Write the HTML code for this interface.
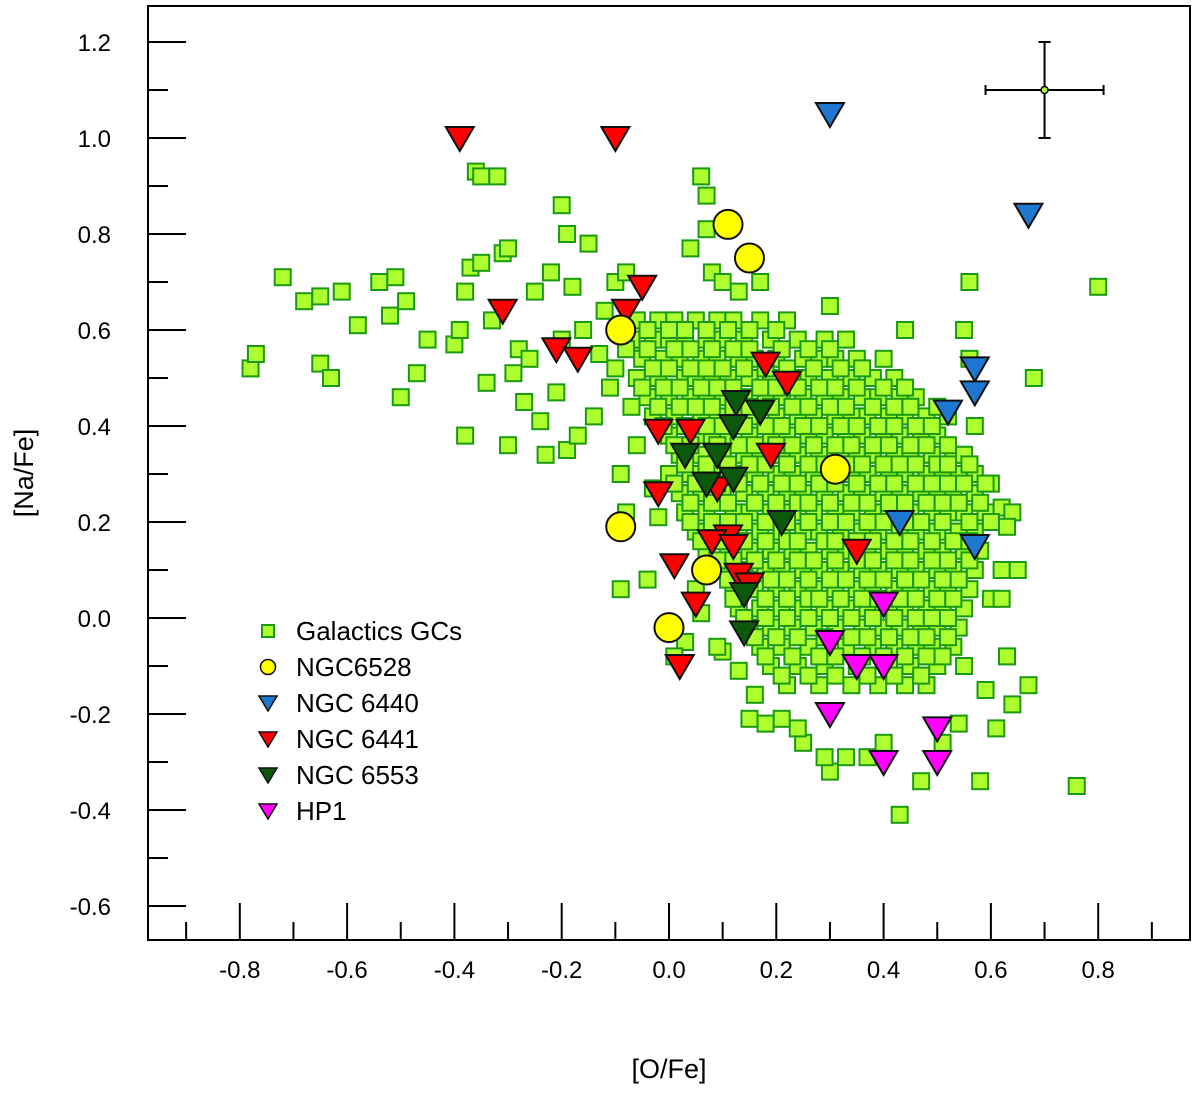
<!DOCTYPE html>
<html><head><meta charset="utf-8"><style>
html,body{margin:0;padding:0;background:#fff;}
svg{display:block;font-family:"Liberation Sans",sans-serif;}
</style></head><body>
<svg id="chart" width="1200" height="1093" viewBox="0 0 1200 1093">
<rect x="148" y="6" width="1042" height="934" fill="none" stroke="#000" stroke-width="2"/>
<g id="ticks"></g>
<g id="squares"></g>
<g id="markers"></g>
<text x="669" y="1078" font-size="27" text-anchor="middle">[O/Fe]</text>
<text transform="translate(33,473) rotate(-90)" font-size="27" text-anchor="middle">[Na/Fe]</text>
<g id="legend"></g>
</svg>
<script>
const gcX = [];
const gcY = [];
const outer = [[-0.78,0.52],[-0.77,0.55],[-0.72,0.71],[-0.68,0.66],[-0.65,0.67],[-0.65,0.53],[-0.63,0.50],[-0.61,0.68],[-0.58,0.61],[-0.54,0.70],[-0.52,0.63],[-0.51,0.71],[-0.50,0.46],[-0.49,0.66],[-0.47,0.51],[-0.45,0.58],[-0.40,0.57],[-0.39,0.60],[-0.38,0.38],[-0.38,0.68],[-0.37,0.73],[-0.36,0.93],[-0.35,0.92],[-0.35,0.74],[-0.34,0.49],[-0.33,0.62],[-0.32,0.92],[-0.31,0.76],[-0.30,0.77],[-0.30,0.36],[-0.29,0.51],[-0.28,0.56],[-0.27,0.45],[-0.26,0.54],[-0.25,0.68],[-0.24,0.41],[-0.23,0.34],[-0.22,0.72],[-0.21,0.47],[-0.20,0.86],[-0.20,0.58],[-0.19,0.80],[-0.19,0.35],[-0.18,0.69],[-0.17,0.38],[-0.16,0.60],[-0.15,0.78],[-0.14,0.42],[-0.13,0.55],[-0.12,0.64],[-0.11,0.48],[-0.10,0.52],[-0.10,0.70],[-0.09,0.30],[-0.09,0.06],[-0.08,0.72],[-0.08,0.22],[-0.07,0.44],[-0.06,0.36],[-0.05,0.56],[-0.04,0.08],[-0.03,0.27],[-0.02,0.21],[0.06,0.92],[0.07,0.88],[0.07,0.81],[0.08,0.72],[0.04,0.77],[0.10,0.70],[0.13,0.68],[0.17,0.70],[0.30,0.65],[0.40,0.54],[0.44,0.60],[0.55,0.60],[0.56,0.70],[0.56,0.54],[0.57,0.40],[0.68,0.50],[0.80,0.69],[0.60,0.28],[0.62,0.23],[0.64,0.22],[0.63,0.19],[0.65,0.10],[0.62,0.10],[0.60,0.04],[0.62,0.04],[0.63,-0.08],[0.64,-0.18],[0.67,-0.14],[0.76,-0.35],[0.58,-0.34],[0.59,-0.15],[0.61,-0.23],[0.54,-0.22],[0.51,-0.26],[0.47,-0.34],[0.43,-0.41],[0.40,-0.26],[0.37,-0.29],[0.33,-0.29],[0.30,-0.32],[0.29,-0.29],[0.25,-0.26],[0.24,-0.23],[0.21,-0.21],[0.18,-0.22],[0.16,-0.16],[0.15,-0.21],[0.13,-0.11],[0.10,-0.07],[0.09,-0.06],[0.06,0.01],[0.03,-0.05],[0.01,-0.08],[0.05,0.06]];
const coreRowY = [0.62,0.58,0.54,0.50,0.46,0.42,0.38,0.34,0.30,0.26,0.22,0.18,0.14,0.10,0.06,0.02,-0.02,-0.06,-0.10,-0.14];
const coreRowX = [
[-0.06,-0.02,0.01,0.05,0.09,0.12,0.17,0.22],
[-0.07,-0.03,0.0,0.03,0.07,0.1,0.14,0.19,0.24,0.29,0.33],
[-0.05,-0.01,0.02,0.06,0.09,0.13,0.16,0.2,0.25,0.28,0.31,0.35],
[-0.06,-0.02,0.03,0.05,0.08,0.11,0.15,0.19,0.23,0.26,0.3,0.34,0.38,0.42],
[-0.04,0.0,0.04,0.07,0.1,0.14,0.18,0.21,0.25,0.29,0.32,0.36,0.39,0.43,0.46],
[-0.03,0.01,0.06,0.09,0.13,0.16,0.2,0.24,0.27,0.31,0.34,0.37,0.41,0.44,0.48,0.52],
[0.0,0.05,0.08,0.11,0.15,0.19,0.22,0.26,0.29,0.33,0.36,0.4,0.43,0.47,0.5],
[0.02,0.06,0.1,0.14,0.17,0.21,0.24,0.28,0.32,0.35,0.38,0.42,0.45,0.49,0.53,0.55],
[0.0,0.04,0.08,0.12,0.16,0.2,0.23,0.27,0.3,0.34,0.37,0.41,0.44,0.48,0.51,0.54,0.57],
[0.02,0.06,0.1,0.14,0.18,0.22,0.25,0.29,0.33,0.36,0.4,0.43,0.47,0.5,0.53,0.57],
[0.03,0.07,0.12,0.15,0.19,0.23,0.27,0.31,0.34,0.38,0.41,0.45,0.49,0.52,0.55,0.59],
[0.05,0.09,0.13,0.17,0.21,0.25,0.28,0.32,0.36,0.39,0.43,0.46,0.5,0.54,0.57],
[0.07,0.11,0.15,0.19,0.23,0.26,0.3,0.33,0.37,0.41,0.44,0.48,0.51,0.55,0.58],
[0.1,0.14,0.18,0.21,0.25,0.28,0.32,0.36,0.39,0.43,0.46,0.5,0.53,0.57],
[0.12,0.16,0.2,0.24,0.27,0.31,0.35,0.38,0.42,0.45,0.49,0.52,0.56],
[0.13,0.17,0.21,0.25,0.29,0.33,0.37,0.41,0.44,0.48,0.51,0.55],
[0.15,0.19,0.23,0.27,0.31,0.36,0.4,0.43,0.47,0.5,0.54],
[0.17,0.21,0.26,0.33,0.38,0.42,0.46,0.49,0.53],
[0.19,0.24,0.29,0.35,0.41,0.45,0.5,0.55],
[0.22,0.28,0.34,0.39,0.44,0.48]];
const midRowY = [0.60,0.56,0.52,0.48,0.44,0.40,0.36,0.32,0.28,0.24,0.20,0.16,0.12,0.08,0.04,0.00,-0.04,-0.08,-0.12];
const midRowX = [
[-0.04,0.0,0.03,0.07,0.11,0.15,0.2],
[-0.08,-0.04,0.01,0.04,0.08,0.12,0.15,0.21,0.26,0.3],
[-0.03,0.0,0.04,0.07,0.1,0.14,0.18,0.22,0.27,0.32,0.36],
[-0.05,-0.01,0.02,0.06,0.09,0.12,0.17,0.2,0.24,0.28,0.31,0.35,0.4,0.44],
[-0.02,0.02,0.05,0.08,0.12,0.15,0.19,0.23,0.26,0.3,0.33,0.38,0.42,0.45,0.5],
[-0.01,0.03,0.07,0.1,0.14,0.18,0.21,0.25,0.28,0.32,0.35,0.39,0.42,0.46,0.49],
[0.01,0.04,0.09,0.13,0.16,0.2,0.23,0.27,0.31,0.34,0.38,0.41,0.45,0.48,0.52],
[0.03,0.07,0.11,0.15,0.18,0.22,0.26,0.29,0.33,0.36,0.4,0.43,0.46,0.5,0.52,0.56],
[0.01,0.05,0.09,0.13,0.17,0.21,0.24,0.28,0.31,0.35,0.39,0.42,0.46,0.49,0.52,0.55,0.59],
[0.04,0.08,0.11,0.16,0.2,0.24,0.26,0.3,0.34,0.37,0.41,0.44,0.48,0.51,0.54,0.58],
[0.04,0.08,0.11,0.14,0.18,0.22,0.26,0.3,0.33,0.37,0.4,0.44,0.47,0.51,0.56,0.6],
[0.06,0.1,0.14,0.18,0.22,0.24,0.29,0.31,0.35,0.38,0.42,0.45,0.49,0.53,0.56],
[0.09,0.12,0.16,0.2,0.24,0.27,0.31,0.35,0.38,0.42,0.45,0.49,0.52,0.56],
[0.11,0.15,0.19,0.22,0.26,0.3,0.33,0.37,0.4,0.44,0.47,0.51,0.54],
[0.12,0.18,0.22,0.26,0.28,0.32,0.36,0.39,0.43,0.46,0.5,0.53],
[0.14,0.18,0.22,0.26,0.3,0.34,0.38,0.42,0.46,0.49,0.52],
[0.16,0.2,0.24,0.29,0.34,0.37,0.41,0.45,0.48,0.52],
[0.18,0.23,0.28,0.31,0.36,0.4,0.44,0.48,0.51],
[0.21,0.26,0.31,0.37,0.42,0.47]];
const ngc6528X = [0.11,0.15,-0.09,0.31,-0.09,0.07,0.0];
const ngc6528Y = [0.82,0.75,0.60,0.31,0.19,0.10,-0.02];
const ngc6440X = [0.30,0.67,0.57,0.57,0.52,0.43,0.57];
const ngc6440Y = [1.05,0.84,0.52,0.47,0.43,0.20,0.15];
const ngc6441X = [-0.39,-0.10,-0.31,-0.05,-0.08,-0.21,-0.17,0.18,0.22,-0.02,0.04,0.19,-0.02,0.09,0.11,0.08,0.12,0.35,0.01,0.13,0.15,0.05,0.02];
const ngc6441Y = [1.0,1.0,0.64,0.69,0.64,0.56,0.54,0.53,0.49,0.39,0.39,0.34,0.26,0.27,0.17,0.16,0.15,0.14,0.11,0.09,0.07,0.03,-0.10];
const ngc6553X = [0.125,0.17,0.12,0.03,0.09,0.07,0.12,0.21,0.14,0.14];
const ngc6553Y = [0.45,0.43,0.40,0.34,0.34,0.28,0.29,0.20,0.05,-0.03];
const hp1X = [0.40,0.30,0.35,0.40,0.30,0.50,0.40,0.50];
const hp1Y = [0.03,-0.05,-0.10,-0.10,-0.20,-0.23,-0.30,-0.30];
const xTickLabels = ["-0.8","-0.6","-0.4","-0.2","0.0","0.2","0.4","0.6","0.8"];
const yTickLabels = ["-0.6","-0.4","-0.2","0.0","0.2","0.4","0.6","0.8","1.0","1.2"];
const errX = 0.70, errY = 1.10, errDX = 0.11, errDY = 0.10;

outer.forEach(p=>{gcX.push(p[0]);gcY.push(p[1]);});
coreRowX.forEach((row,i)=>row.forEach(x=>{gcX.push(x);gcY.push(coreRowY[i]);}));
midRowX.forEach((row,i)=>row.forEach(x=>{gcX.push(x);gcY.push(midRowY[i]);}));

const sx = v => 669 + v*536.5;
const sy = v => 618 - v*480;
const NS = "http://www.w3.org/2000/svg";
function mk(tag, attrs, parent){const e=document.createElementNS(NS,tag);for(const k in attrs)e.setAttribute(k,attrs[k]);parent.appendChild(e);return e;}

const tg = document.getElementById('ticks');
for(let i=-9;i<=9;i++){
  const v=i/10, major=(i%2===0);
  const x=sx(v);
  const t=mk('line',{x1:x,x2:x,y1:940,y2:major?903:922,stroke:'#000','stroke-width':2},tg);
  
  
}
xTickLabels.forEach(s=>{
  const t=mk('text',{x:sx(parseFloat(s)),y:978,'font-size':24,'text-anchor':'middle'},tg);
  t.textContent=s;
  
  
});
for(let i=-6;i<=12;i++){
  const v=i/10, major=(i%2===0);
  const y=sy(v);
  const t=mk('line',{x1:148,x2:major?186:168,y1:y,y2:y,stroke:'#000','stroke-width':2},tg);
  
  
}
yTickLabels.forEach(s=>{
  const t=mk('text',{x:111,y:sy(parseFloat(s))+9,'font-size':24,'text-anchor':'end'},tg);
  t.textContent=s;
  
  
});

const sq = document.getElementById('squares');
gcX.forEach((x,i)=>{
  const r=mk('rect',{x:sx(x)-8,y:sy(gcY[i])-8,width:16,height:16,fill:'#adff2f',stroke:'#1a9a10','stroke-width':2},sq);
  
  
});

const mg = document.getElementById('markers');
function tri(cx,cy,fill,parent,name){
  const p=mk('polygon',{points:`${cx-14},${cy-11} ${cx+14},${cy-11} ${cx},${cy+13}`,fill:fill,stroke:'#111','stroke-width':2},parent);
  
  
}
ngc6441X.forEach((x,i)=>tri(sx(x),sy(ngc6441Y[i]),'#ff0000',mg,'ngc6441-point'));
ngc6553X.forEach((x,i)=>tri(sx(x),sy(ngc6553Y[i]),'#0b5a0b',mg,'ngc6553-point'));
ngc6440X.forEach((x,i)=>tri(sx(x),sy(ngc6440Y[i]),'#1e78d0',mg,'ngc6440-point'));
hp1X.forEach((x,i)=>tri(sx(x),sy(hp1Y[i]),'#ff00ff',mg,'hp1-point'));
ngc6528X.forEach((x,i)=>{
  const c=mk('circle',{cx:sx(x),cy:sy(ngc6528Y[i]),r:14.5,fill:'#ffff00',stroke:'#111','stroke-width':2},mg);
  
  
});
const eg=mk('g',{},mg);


const ex=sx(errX), ey=sy(errY), ex1=sx(errX-errDX), ex2=sx(errX+errDX), ey1=sy(errY+errDY), ey2=sy(errY-errDY);
mk('line',{x1:ex1,x2:ex2,y1:ey,y2:ey,stroke:'#000','stroke-width':2},eg);
mk('line',{x1:ex,x2:ex,y1:ey1,y2:ey2,stroke:'#000','stroke-width':2},eg);
mk('line',{x1:ex1,x2:ex1,y1:ey-5,y2:ey+5,stroke:'#000','stroke-width':2},eg);
mk('line',{x1:ex2,x2:ex2,y1:ey-5,y2:ey+5,stroke:'#000','stroke-width':2},eg);
mk('line',{x1:ex-6,x2:ex+6,y1:ey1,y2:ey1,stroke:'#000','stroke-width':2},eg);
mk('line',{x1:ex-6,x2:ex+6,y1:ey2,y2:ey2,stroke:'#000','stroke-width':2},eg);
mk('circle',{cx:ex,cy:ey,r:3.5,fill:'#adff2f',stroke:'#000','stroke-width':1.5},eg);

const lg=document.getElementById('legend');
const legendNames=["Galactics GCs","NGC6528","NGC 6440","NGC 6441","NGC 6553","HP1"];
const legendFill=['#adff2f','#ffff00','#1e78d0','#ff0000','#0b5a0b','#ff00ff'];
legendNames.forEach((n,i)=>{
  const y=631+i*36, x=268;
  let m;
  if(i===0){m=mk('rect',{x:x-6,y:y-6,width:12,height:12,fill:legendFill[0],stroke:'#1a9a10','stroke-width':2},lg);}
  else if(i===1){m=mk('circle',{cx:x,cy:y,r:7.5,fill:legendFill[1],stroke:'#111','stroke-width':1.5},lg);}
  else {m=mk('polygon',{points:`${x-9},${y-7} ${x+9},${y-7} ${x},${y+8}`,fill:legendFill[i],stroke:'#111','stroke-width':1.5},lg);}
  
  
  const t=mk('text',{x:296,y:y+9,'font-size':26},lg);
  t.textContent=n;
  
  
});
</script>
</body></html>
